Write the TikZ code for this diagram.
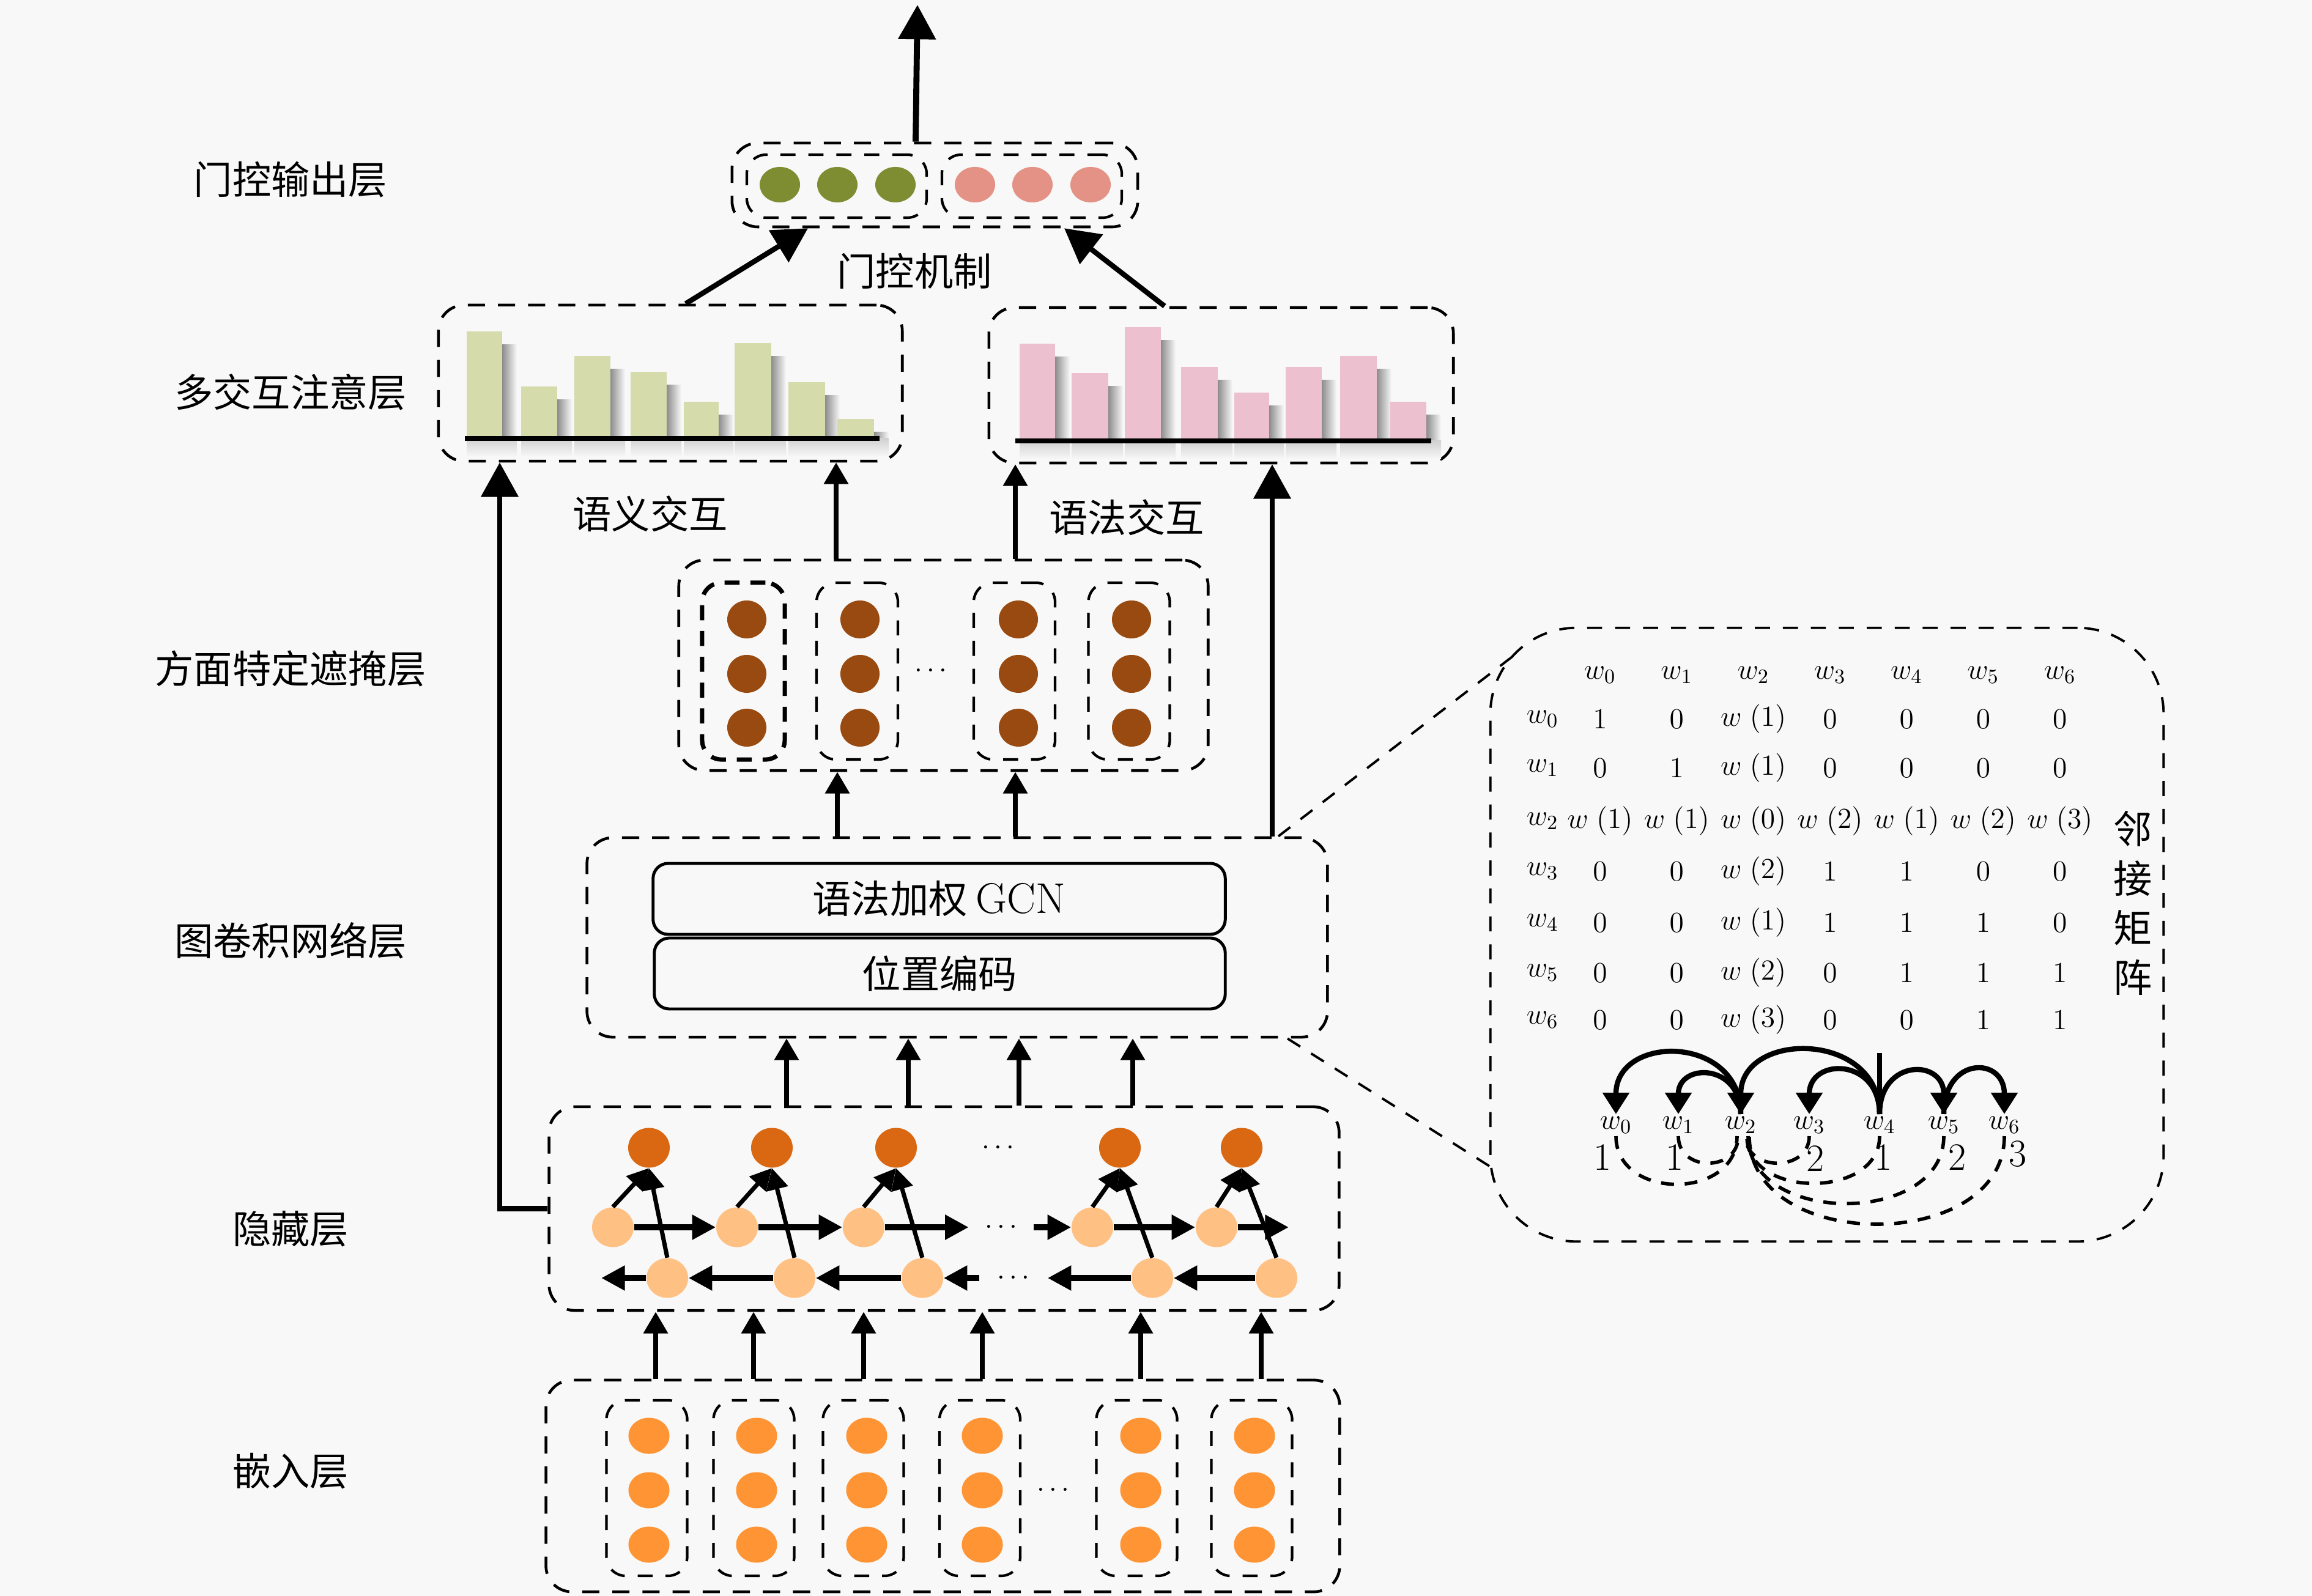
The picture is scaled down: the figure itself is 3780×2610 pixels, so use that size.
\documentclass[tikz,border=0pt]{standalone}
\usepackage{fix-cm}
\usepackage{fontspec}
\newfontfamily\cjk{Noto Sans CJK SC}
\usetikzlibrary{arrows.meta,shapes.geometric}
\definecolor{bgc}{RGB}{248,248,248}
\definecolor{cgreen}{RGB}{126,140,50}
\definecolor{cpink}{RGB}{228,146,134}
\definecolor{bargreen}{RGB}{213,219,171}
\definecolor{barpink}{RGB}{236,192,207}
\definecolor{cbrown}{RGB}{152,74,16}
\definecolor{cdark}{RGB}{218,104,18}
\definecolor{clight}{RGB}{255,192,132}
\definecolor{cemb}{RGB}{255,148,52}
\newcommand{\wq}[1]{w\;(#1)}
\tikzset{
  lbl/.style={font=\cjk\fontsize{18}{23}\selectfont, inner sep=0pt},
  dbox/.style={draw, line width=1.3pt, dash pattern=on 8pt off 6pt, rounded corners=12pt, inner sep=0pt},
  ibox/.style={draw, line width=1.2pt, dash pattern=on 7pt off 6pt, rounded corners=9pt, inner sep=0pt},
  sbox/.style={draw, line width=1.4pt, rounded corners=7pt, inner sep=0pt},
  gdot/.style={ellipse, fill=cgreen, inner sep=0pt, minimum width=0.66cm, minimum height=0.58cm},
  pdot/.style={ellipse, fill=cpink, inner sep=0pt, minimum width=0.66cm, minimum height=0.58cm},
  bdot/.style={ellipse, fill=cbrown, inner sep=0pt, minimum width=0.64cm, minimum height=0.62cm},
  tdot/.style={ellipse, fill=cdark, inner sep=0pt, minimum width=0.68cm, minimum height=0.65cm},
  ldot/.style={ellipse, fill=clight, inner sep=0pt, minimum width=0.68cm, minimum height=0.65cm},
  edot/.style={ellipse, fill=cemb, inner sep=0pt, minimum width=0.67cm, minimum height=0.59cm},
  dots/.style={font=\fontsize{13}{15}\selectfont, inner sep=0pt},
  mtx/.style={font=\fontsize{13.5}{16}\selectfont, inner sep=1pt},
  num/.style={font=\fontsize{18}{20}\selectfont, inner sep=0pt},
  arrbig/.style={line width=2.4pt, -{Triangle[length=16pt,width=17pt]}},
  arrmid/.style={line width=2.1pt, -{Triangle[length=10pt,width=11pt]}},
  harr/.style={line width=3pt, -{Triangle[length=11pt,width=11pt]}},
  darr/.style={line width=2pt, -{Triangle[length=10pt,width=10pt]}},
  deparr/.style={line width=2.4pt, -{Triangle[length=10pt,width=12pt]}},
  dlink/.style={line width=1.6pt, dash pattern=on 6pt off 5pt},
  zline/.style={line width=1.1pt, dash pattern=on 7pt off 6pt},
}
\begin{document}
\begin{tikzpicture}[x=0.01cm,y=-0.01cm]
\fill[bgc] (0,0) rectangle (3780,2610);
\useasboundingbox (0,0) rectangle (3780,2610);

% left labels
\node[lbl] (L1) at (475,294) {门控输出层};
\node[lbl] (L2) at (475,641) {多交互注意层};
\node[lbl] (L3) at (475,1094) {方面特定遮掩层};
\node[lbl] (L4) at (475,1538) {图卷积网络层};
\node[lbl] (L5) at (475,2010) {隐藏层};
\node[lbl] (L6) at (475,2406) {嵌入层};

% output layer
\node[dbox, minimum width=6.63cm, minimum height=1.37cm] (outbox) at (1528.5,302.5) {};
\node[ibox, minimum width=2.94cm, minimum height=1.03cm] (outL) at (1368,304.5) {};
\node[ibox, minimum width=2.94cm, minimum height=1.03cm] (outR) at (1687,304.5) {};
\foreach \x [count=\i] in {1275,1369,1464} \node[gdot] (g\i) at (\x,302) {};
\foreach \x [count=\i] in {1594,1688,1783} \node[pdot] (p\i) at (\x,302) {};
\node[lbl] (gate) at (1495,443) {门控机制};
\coordinate (outtop) at (1500,8);

% charts
\node[dbox, minimum width=7.58cm, minimum height=2.55cm] (chartL) at (1096,626.5) {};
\node[dbox, minimum width=7.59cm, minimum height=2.54cm] (chartR) at (1996.5,630) {};
\foreach \l/\r/\t in {763/821/542, 852/911/632, 939/998/582, 1031/1090/608, 1118/1175/657, 1201/1261/561, 1289/1349/625, 1369/1429/685} {
  \shade[left color=black!45, right color=bgc] (\r,\t+22) rectangle (\r+24,717);
  \shade[top color=black!18, bottom color=bgc] (\l,717) rectangle (\r+24,747);
  \fill[bargreen] (\l,\t) rectangle (\r,717);
}
\draw[line width=2.4pt] (760,717) -- (1438,717);
\foreach \l/\r/\t in {1667/1725/562, 1752/1812/610, 1839/1898/535, 1931/1991/600, 2018/2075/642, 2102/2161/600, 2191/2251/582, 2273/2332/657} {
  \shade[left color=black!45, right color=bgc] (\r,\t+22) rectangle (\r+24,721);
  \shade[top color=black!18, bottom color=bgc] (\l,721) rectangle (\r+24,751);
  \fill[barpink] (\l,\t) rectangle (\r,721);
}
\draw[line width=2.4pt] (1660,721) -- (2340,721);
\node[lbl] (sem) at (1063,840) {语义交互};
\node[lbl] (syn) at (1842,846) {语法交互};

% mask layer
\node[dbox, minimum width=8.65cm, minimum height=3.44cm] (mask) at (1542.5,1088) {};
\node[ibox, line width=2pt, dash pattern=on 7pt off 5pt, minimum width=1.35cm, minimum height=2.89cm] (mk1) at (1215.5,1097.5) {};
\node[ibox, minimum width=1.33cm, minimum height=2.89cm] (mk2) at (1401.5,1097.5) {};
\node[ibox, minimum width=1.33cm, minimum height=2.89cm] (mk3) at (1658.5,1097.5) {};
\node[ibox, minimum width=1.33cm, minimum height=2.89cm] (mk4) at (1846,1097.5) {};
\foreach \x [count=\i] in {1221,1406,1665,1850}
  \foreach \y [count=\j] in {1013,1102,1190}
    \node[bdot] (b\i\j) at (\x,\y) {};
\node[dots] (mdots) at (1522,1097) {$\cdots$};

% GCN layer
\node[dbox, minimum width=12.10cm, minimum height=3.26cm] (gcn) at (1565,1533) {};
\node[sbox, minimum width=9.35cm, minimum height=1.16cm, font=\cjk\fontsize{18}{23}\selectfont] (gcn1) at (1535.5,1470) {语法加权 {\rmfamily\fontsize{20}{23}\selectfont GCN}};
\node[sbox, minimum width=9.33cm, minimum height=1.16cm, font=\cjk\fontsize{18}{23}\selectfont] (gcn2) at (1536.5,1592) {位置编码};

% hidden layer
\node[dbox, minimum width=12.91cm, minimum height=3.33cm] (hidden) at (1543.5,1976.5) {};
\foreach \x [count=\i] in {1061,1262,1465,1831,2030} \node[tdot] (T\i) at (\x,1877) {};
\foreach \x [count=\i] in {1002,1205,1412,1786,1989} \node[ldot] (M\i) at (\x,2007) {};
\foreach \x [count=\i] in {1091,1299,1508,1884,2087} \node[ldot] (B\i) at (\x,2090) {};
\node[dots] (hdT) at (1632,1877) {$\cdots$};
\node[dots, minimum width=1.05cm] (hdM) at (1637,2007) {$\cdots$};
\node[dots, minimum width=1.1cm] (hdB) at (1657,2090) {$\cdots$};
\coordinate (mEnd) at (2107,2007);
\coordinate (bEnd) at (983,2090);
\draw[harr] (M1) -- (M2);
\draw[harr] (M2) -- (M3);
\draw[harr] (M3) -- (hdM);
\draw[harr] (hdM) -- (M4);
\draw[harr] (M4) -- (M5);
\draw[harr] (M5) -- (mEnd);
\draw[harr] (B1) -- (bEnd);
\draw[harr] (B2) -- (B1);
\draw[harr] (B3) -- (B2);
\draw[harr] (hdB) -- (B3);
\draw[harr] (B4) -- (hdB);
\draw[harr] (B5) -- (B4);
\foreach \i in {1,...,5} {
  \draw[darr] (M\i.north) -- (T\i.south);
  \draw[darr] (B\i.north) -- (T\i.south);
}

% embedding layer
\node[dbox, minimum width=12.97cm, minimum height=3.46cm] (emb) at (1541.5,2430) {};
\foreach \x [count=\i] in {1057.5,1232.5,1411.5,1602,1858.5,2046.5}
  \node[ibox, minimum width=1.32cm, minimum height=2.87cm] (eb\i) at (\x,2433.5) {};
\foreach \x [count=\i] in {1061,1237,1417,1606,1865,2051}
  \foreach \y [count=\j] in {2348,2437,2526}
    \node[edot] (e\i\j) at (\x,\y) {};
\node[dots] (edots) at (1722,2437) {$\cdots$};

% vertical connectors
\foreach \x [count=\i] in {1072,1232,1412,1606,1865,2062} {
  \coordinate (ex\i) at (\x,0);
  \draw[arrmid] (ex\i |- emb.north) -- (ex\i |- hidden.south);
}
\foreach \x [count=\i] in {1286,1485,1666,1852} {
  \coordinate (hx\i) at (\x,0);
  \draw[arrmid] (hx\i |- hidden.north) -- (hx\i |- gcn.south);
}
\foreach \x [count=\i] in {1369,1660} {
  \coordinate (gx\i) at (\x,0);
  \draw[arrmid] (gx\i |- gcn.north) -- (gx\i |- mask.south);
}
\coordinate (kx1) at (1367,0);
\coordinate (kx2) at (1660,0);
\draw[arrmid] (kx1 |- mask.north) -- (kx1 |- chartL.south);
\draw[arrmid] (kx2 |- mask.north) -- (kx2 |- chartR.south);
\coordinate (rx) at (2080,0);
\draw[arrbig] (rx |- gcn.north) -- (rx |- chartR.south);
\coordinate (xl) at (817,0);
\draw[arrbig] (hidden.west) -| (xl |- chartL.south);
\coordinate (cx1) at (1121,0);
\coordinate (cx2) at (1321,0);
\coordinate (cx3) at (1904,0);
\coordinate (cx4) at (1740,0);
\draw[arrbig] (cx1 |- chartL.north) -- (cx2 |- outbox.south);
\draw[arrbig] (cx3 |- chartR.north) -- (cx4 |- outbox.south);
\coordinate (tx) at (1497,0);
\draw[arrbig, line width=2.8pt] (tx |- outbox.north) -- (outtop);

% adjacency panel
\node[draw, line width=1.1pt, dash pattern=on 7pt off 6pt, rounded corners=40pt, minimum width=11.0cm, minimum height=10.03cm, inner sep=0pt] (panel) at (2987,1528.5) {};
\coordinate (pa) at (2488,1062);
\coordinate (pb) at (2443,1912);
\coordinate (zx1) at (2090,0);
\coordinate (zx2) at (2105,0);
\draw[zline] (zx1 |- gcn.north) -- (pa);
\draw[zline] (zx2 |- gcn.south) -- (pb);

\foreach \c in {0,...,6}
  \node[mtx] (mh\c) at (2616+125.3*\c,1104) {$w_{\c}$};
\foreach \y [count=\r from 0] in {1176,1256,1343,1425,1509,1591,1668}
  \node[mtx] (mr\r) at (2522,\y) {$w_{\r}$};
\foreach \e [count=\c from 0] in {1,0,\wq{1},0,0,0,0} \node[mtx] (m0-\c) at (2616+125.3*\c,1176) {$\e$};
\foreach \e [count=\c from 0] in {0,1,\wq{1},0,0,0,0} \node[mtx] (m1-\c) at (2616+125.3*\c,1256) {$\e$};
\foreach \e [count=\c from 0] in {\wq{1},\wq{1},\wq{0},\wq{2},\wq{1},\wq{2},\wq{3}} \node[mtx] (m2-\c) at (2616+125.3*\c,1343) {$\e$};
\foreach \e [count=\c from 0] in {0,0,\wq{2},1,1,0,0} \node[mtx] (m3-\c) at (2616+125.3*\c,1425) {$\e$};
\foreach \e [count=\c from 0] in {0,0,\wq{1},1,1,1,0} \node[mtx] (m4-\c) at (2616+125.3*\c,1509) {$\e$};
\foreach \e [count=\c from 0] in {0,0,\wq{2},0,1,1,1} \node[mtx] (m5-\c) at (2616+125.3*\c,1591) {$\e$};
\foreach \e [count=\c from 0] in {0,0,\wq{3},0,0,1,1} \node[mtx] (m6-\c) at (2616+125.3*\c,1668) {$\e$};
\node[lbl, align=center] (adj) at (3487,1477) {邻\\接\\矩\\阵};

% dependency tree
\foreach \x [count=\i from 0] in {2642,2744,2846,2958,3073,3178,3277}
  \node[mtx] (dw\i) at (\x,1840) {$w_{\i}$};
\node[num] (n0) at (2620,1893) {1};
\node[num] (n1) at (2738,1893) {1};
\node[num] (n3) at (2968,1895) {2};
\node[num] (n4) at (3079,1893) {1};
\node[num] (n5) at (3200,1893) {2};
\node[num] (n6) at (3299,1887) {3};
\draw[deparr] (dw2.north) .. controls +(0,-131) and +(0,-131) .. (dw0.north);
\draw[deparr] (dw2.north) .. controls +(0,-84) and +(0,-84) .. (dw1.north);
\draw[deparr] (dw4.north) .. controls +(0,-137) and +(0,-137) .. (dw2.north);
\draw[deparr] (dw4.north) .. controls +(0,-93) and +(0,-93) .. (dw3.north);
\draw[deparr] (dw4.north) .. controls +(0,-91) and +(0,-91) .. (dw5.north);
\draw[deparr] (dw5.north) .. controls +(0,-95) and +(0,-95) .. (dw6.north);
\coordinate (root) at (3073,1722);
\draw[line width=2.2pt] (root) -- (dw4.north);
\draw[dlink] (dw0.south) .. controls +(0,105) and +(0,105) .. ([xshift=-0.06cm]dw2.south);
\draw[dlink] (dw1.south) .. controls +(0,59) and +(0,59) .. ([xshift=-0.04cm]dw2.south);
\draw[dlink] (dw3.south) .. controls +(0,59) and +(0,59) .. ([xshift=0.08cm]dw2.south);
\draw[dlink] (dw4.south) .. controls +(0,103) and +(0,103) .. ([xshift=0.10cm]dw2.south);
\draw[dlink] (dw5.south) .. controls +(0,147) and +(0,147) .. ([xshift=0.12cm]dw2.south);
\draw[dlink] (dw6.south) .. controls +(0,192) and +(0,192) .. ([xshift=0.14cm]dw2.south);
\end{tikzpicture}
\end{document}
